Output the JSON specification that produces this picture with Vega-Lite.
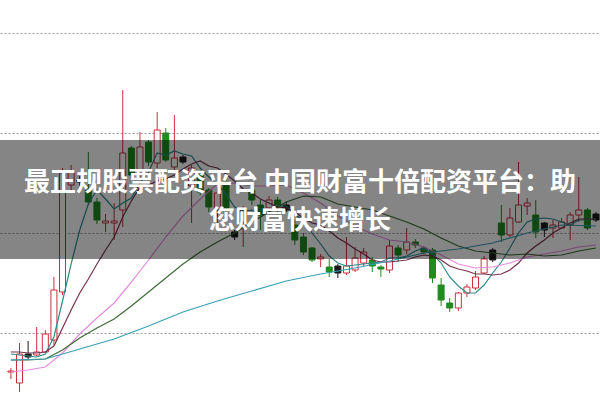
{
  "$schema": "https://vega.github.io/schema/vega-lite/v6.json",
  "width": 600,
  "height": 400,
  "padding": 0,
  "autosize": {"type": "none"},
  "background": "#ffffff",
  "config": {"view": {"stroke": null}},
  "datasets": {
    "k": [
      {"i":0,"o":2.61,"h":2.65,"l":2.54,"c":2.62,"dir":"up"},
      {"i":1,"o":2.50,"h":2.90,"l":2.41,"c":2.79,"dir":"up"},
      {"i":2,"o":2.79,"h":2.92,"l":2.73,"c":2.76,"dir":"flat"},
      {"i":3,"o":2.78,"h":3.06,"l":2.77,"c":2.81,"dir":"up"},
      {"i":4,"o":2.81,"h":3.03,"l":2.81,"c":2.99,"dir":"up"},
      {"i":5,"o":2.93,"h":3.56,"l":2.88,"c":3.43,"dir":"up"},
      {"i":6,"o":3.41,"h":4.65,"l":3.38,"c":4.60,"dir":"up"},
      {"i":7,"o":4.48,"h":4.68,"l":4.43,"c":4.61,"dir":"up"},
      {"i":8,"o":4.53,"h":4.57,"l":4.47,"c":4.51,"dir":"flat"},
      {"i":9,"o":4.43,"h":4.81,"l":4.28,"c":4.31,"dir":"down"},
      {"i":10,"o":4.31,"h":4.35,"l":4.09,"c":4.13,"dir":"down"},
      {"i":11,"o":4.10,"h":4.19,"l":4.01,"c":4.12,"dir":"up"},
      {"i":12,"o":4.10,"h":4.30,"l":3.93,"c":4.12,"dir":"up"},
      {"i":13,"o":4.23,"h":5.43,"l":4.06,"c":4.80,"dir":"up"},
      {"i":14,"o":4.85,"h":4.87,"l":4.55,"c":4.58,"dir":"down"},
      {"i":15,"o":4.58,"h":5.01,"l":4.53,"c":4.86,"dir":"up"},
      {"i":16,"o":4.91,"h":4.93,"l":4.67,"c":4.71,"dir":"down"},
      {"i":17,"o":4.70,"h":5.21,"l":4.65,"c":5.03,"dir":"up"},
      {"i":18,"o":5.00,"h":5.05,"l":4.71,"c":4.73,"dir":"down"},
      {"i":19,"o":4.66,"h":5.18,"l":4.63,"c":4.75,"dir":"up"},
      {"i":20,"o":4.76,"h":4.78,"l":4.69,"c":4.71,"dir":"flat"},
      {"i":21,"o":4.47,"h":4.68,"l":4.10,"c":4.65,"dir":"up"},
      {"i":22,"o":4.58,"h":4.63,"l":4.38,"c":4.41,"dir":"down"},
      {"i":23,"o":4.43,"h":4.45,"l":4.21,"c":4.26,"dir":"down"},
      {"i":24,"o":4.23,"h":4.46,"l":4.08,"c":4.40,"dir":"up"},
      {"i":25,"o":4.51,"h":4.58,"l":4.18,"c":4.25,"dir":"down"},
      {"i":26,"o":4.01,"h":4.03,"l":3.93,"c":3.96,"dir":"flat"},
      {"i":27,"o":4.11,"h":4.27,"l":3.86,"c":4.23,"dir":"up"},
      {"i":28,"o":4.43,"h":4.47,"l":4.28,"c":4.33,"dir":"down"},
      {"i":29,"o":4.28,"h":4.33,"l":4.03,"c":4.18,"dir":"down"},
      {"i":30,"o":4.25,"h":4.37,"l":4.23,"c":4.33,"dir":"up"},
      {"i":31,"o":4.33,"h":4.36,"l":4.20,"c":4.28,"dir":"down"},
      {"i":32,"o":4.28,"h":4.31,"l":4.21,"c":4.23,"dir":"flat"},
      {"i":33,"o":4.08,"h":4.13,"l":3.88,"c":3.93,"dir":"down"},
      {"i":34,"o":3.96,"h":4.00,"l":3.78,"c":3.81,"dir":"down"},
      {"i":35,"o":3.85,"h":3.86,"l":3.71,"c":3.73,"dir":"down"},
      {"i":36,"o":3.74,"h":3.79,"l":3.66,"c":3.76,"dir":"up"},
      {"i":37,"o":3.66,"h":3.74,"l":3.56,"c":3.61,"dir":"down"},
      {"i":38,"o":3.67,"h":3.69,"l":3.55,"c":3.60,"dir":"flat"},
      {"i":39,"o":3.60,"h":3.96,"l":3.58,"c":3.67,"dir":"up"},
      {"i":40,"o":3.63,"h":3.86,"l":3.61,"c":3.75,"dir":"up"},
      {"i":41,"o":3.70,"h":3.85,"l":3.67,"c":3.81,"dir":"up"},
      {"i":42,"o":3.73,"h":3.76,"l":3.61,"c":3.67,"dir":"down"},
      {"i":43,"o":3.66,"h":3.68,"l":3.56,"c":3.64,"dir":"down"},
      {"i":44,"o":3.63,"h":3.93,"l":3.60,"c":3.87,"dir":"up"},
      {"i":45,"o":3.85,"h":3.88,"l":3.71,"c":3.78,"dir":"down"},
      {"i":46,"o":3.83,"h":4.05,"l":3.79,"c":3.91,"dir":"up"},
      {"i":47,"o":3.91,"h":3.94,"l":3.85,"c":3.88,"dir":"down"},
      {"i":48,"o":3.85,"h":3.87,"l":3.79,"c":3.81,"dir":"down"},
      {"i":49,"o":3.83,"h":3.85,"l":3.50,"c":3.55,"dir":"down"},
      {"i":50,"o":3.48,"h":3.55,"l":3.27,"c":3.33,"dir":"down"},
      {"i":51,"o":3.30,"h":3.35,"l":3.21,"c":3.25,"dir":"down"},
      {"i":52,"o":3.25,"h":3.41,"l":3.22,"c":3.40,"dir":"up"},
      {"i":53,"o":3.40,"h":3.49,"l":3.36,"c":3.46,"dir":"up"},
      {"i":54,"o":3.45,"h":3.62,"l":3.43,"c":3.56,"dir":"up"},
      {"i":55,"o":3.60,"h":3.77,"l":3.59,"c":3.74,"dir":"up"},
      {"i":56,"o":3.73,"h":3.85,"l":3.71,"c":3.83,"dir":"flat"},
      {"i":57,"o":4.10,"h":4.28,"l":3.91,"c":3.98,"dir":"down"},
      {"i":58,"o":3.98,"h":4.25,"l":3.96,"c":4.15,"dir":"up"},
      {"i":59,"o":4.11,"h":4.71,"l":4.10,"c":4.28,"dir":"up"},
      {"i":60,"o":4.27,"h":4.35,"l":4.18,"c":4.30,"dir":"up"},
      {"i":61,"o":4.18,"h":4.33,"l":3.95,"c":4.01,"dir":"down"},
      {"i":62,"o":4.10,"h":4.11,"l":3.96,"c":4.03,"dir":"flat"},
      {"i":63,"o":4.05,"h":4.13,"l":3.95,"c":4.08,"dir":"up"},
      {"i":64,"o":4.05,"h":4.15,"l":4.04,"c":4.11,"dir":"up"},
      {"i":65,"o":4.08,"h":4.21,"l":3.93,"c":4.18,"dir":"up"},
      {"i":66,"o":4.18,"h":4.56,"l":4.11,"c":4.23,"dir":"up"},
      {"i":67,"o":4.23,"h":4.25,"l":4.03,"c":4.05,"dir":"down"},
      {"i":68,"o":4.19,"h":4.21,"l":4.11,"c":4.13,"dir":"flat"}
    ],
    "ma": [
      {"s":"MA5","i":0,"v":2.79},{"s":"MA5","i":1,"v":2.78},{"s":"MA5","i":2,"v":2.77},{"s":"MA5","i":3,"v":2.76},{"s":"MA5","i":4,"v":2.79},
      {"s":"MA5","i":5,"v":2.96},{"s":"MA5","i":6,"v":3.32},{"s":"MA5","i":7,"v":3.69},{"s":"MA5","i":8,"v":4.03},{"s":"MA5","i":9,"v":4.29},
      {"s":"MA5","i":10,"v":4.43},{"s":"MA5","i":11,"v":4.34},{"s":"MA5","i":12,"v":4.24},{"s":"MA5","i":13,"v":4.30},{"s":"MA5","i":14,"v":4.35},
      {"s":"MA5","i":15,"v":4.50},{"s":"MA5","i":16,"v":4.61},{"s":"MA5","i":17,"v":4.80},{"s":"MA5","i":18,"v":4.78},{"s":"MA5","i":19,"v":4.82},
      {"s":"MA5","i":20,"v":4.79},{"s":"MA5","i":21,"v":4.77},{"s":"MA5","i":22,"v":4.65},{"s":"MA5","i":23,"v":4.56},{"s":"MA5","i":24,"v":4.49},
      {"s":"MA5","i":25,"v":4.39},{"s":"MA5","i":26,"v":4.26},{"s":"MA5","i":27,"v":4.22},{"s":"MA5","i":28,"v":4.23},{"s":"MA5","i":29,"v":4.19},
      {"s":"MA5","i":30,"v":4.21},{"s":"MA5","i":31,"v":4.27},{"s":"MA5","i":32,"v":4.27},{"s":"MA5","i":33,"v":4.19},{"s":"MA5","i":34,"v":4.12},
      {"s":"MA5","i":35,"v":4.00},{"s":"MA5","i":36,"v":3.89},{"s":"MA5","i":37,"v":3.77},{"s":"MA5","i":38,"v":3.70},{"s":"MA5","i":39,"v":3.67},
      {"s":"MA5","i":40,"v":3.68},{"s":"MA5","i":41,"v":3.69},{"s":"MA5","i":42,"v":3.70},{"s":"MA5","i":43,"v":3.71},{"s":"MA5","i":44,"v":3.75},
      {"s":"MA5","i":45,"v":3.75},{"s":"MA5","i":46,"v":3.77},{"s":"MA5","i":47,"v":3.82},{"s":"MA5","i":48,"v":3.85},{"s":"MA5","i":49,"v":3.79},
      {"s":"MA5","i":50,"v":3.70},{"s":"MA5","i":51,"v":3.56},{"s":"MA5","i":52,"v":3.47},{"s":"MA5","i":53,"v":3.40},{"s":"MA5","i":54,"v":3.40},
      {"s":"MA5","i":55,"v":3.48},{"s":"MA5","i":56,"v":3.60},{"s":"MA5","i":57,"v":3.71},{"s":"MA5","i":58,"v":3.85},{"s":"MA5","i":59,"v":4.00},
      {"s":"MA5","i":60,"v":4.11},{"s":"MA5","i":61,"v":4.14},{"s":"MA5","i":62,"v":4.15},{"s":"MA5","i":63,"v":4.14},{"s":"MA5","i":64,"v":4.11},
      {"s":"MA5","i":65,"v":4.08},{"s":"MA5","i":66,"v":4.13},{"s":"MA5","i":67,"v":4.13},{"s":"MA5","i":68,"v":4.14},

      {"s":"MA10","i":0,"v":2.81},{"s":"MA10","i":1,"v":2.81},{"s":"MA10","i":2,"v":2.80},{"s":"MA10","i":3,"v":2.80},{"s":"MA10","i":4,"v":2.81},
      {"s":"MA10","i":5,"v":2.87},{"s":"MA10","i":6,"v":3.05},{"s":"MA10","i":7,"v":3.23},{"s":"MA10","i":8,"v":3.40},{"s":"MA10","i":9,"v":3.54},
      {"s":"MA10","i":10,"v":3.69},{"s":"MA10","i":11,"v":3.83},{"s":"MA10","i":12,"v":3.96},{"s":"MA10","i":13,"v":4.16},{"s":"MA10","i":14,"v":4.32},
      {"s":"MA10","i":15,"v":4.46},{"s":"MA10","i":16,"v":4.48},{"s":"MA10","i":17,"v":4.52},{"s":"MA10","i":18,"v":4.54},{"s":"MA10","i":19,"v":4.58},
      {"s":"MA10","i":20,"v":4.64},{"s":"MA10","i":21,"v":4.69},{"s":"MA10","i":22,"v":4.72},{"s":"MA10","i":23,"v":4.67},{"s":"MA10","i":24,"v":4.65},
      {"s":"MA10","i":25,"v":4.59},{"s":"MA10","i":26,"v":4.52},{"s":"MA10","i":27,"v":4.44},{"s":"MA10","i":28,"v":4.40},{"s":"MA10","i":29,"v":4.34},
      {"s":"MA10","i":30,"v":4.30},{"s":"MA10","i":31,"v":4.26},{"s":"MA10","i":32,"v":4.25},{"s":"MA10","i":33,"v":4.21},{"s":"MA10","i":34,"v":4.15},
      {"s":"MA10","i":35,"v":4.10},{"s":"MA10","i":36,"v":4.08},{"s":"MA10","i":37,"v":4.02},{"s":"MA10","i":38,"v":3.95},{"s":"MA10","i":39,"v":3.90},
      {"s":"MA10","i":40,"v":3.84},{"s":"MA10","i":41,"v":3.79},{"s":"MA10","i":42,"v":3.73},{"s":"MA10","i":43,"v":3.71},{"s":"MA10","i":44,"v":3.71},
      {"s":"MA10","i":45,"v":3.72},{"s":"MA10","i":46,"v":3.73},{"s":"MA10","i":47,"v":3.76},{"s":"MA10","i":48,"v":3.78},{"s":"MA10","i":49,"v":3.77},
      {"s":"MA10","i":50,"v":3.73},{"s":"MA10","i":51,"v":3.67},{"s":"MA10","i":52,"v":3.64},{"s":"MA10","i":53,"v":3.62},{"s":"MA10","i":54,"v":3.59},
      {"s":"MA10","i":55,"v":3.59},{"s":"MA10","i":56,"v":3.58},{"s":"MA10","i":57,"v":3.59},{"s":"MA10","i":58,"v":3.63},{"s":"MA10","i":59,"v":3.70},
      {"s":"MA10","i":60,"v":3.80},{"s":"MA10","i":61,"v":3.87},{"s":"MA10","i":62,"v":3.93},{"s":"MA10","i":63,"v":4.00},{"s":"MA10","i":64,"v":4.05},
      {"s":"MA10","i":65,"v":4.10},{"s":"MA10","i":66,"v":4.14},{"s":"MA10","i":67,"v":4.14},{"s":"MA10","i":68,"v":4.14},

      {"s":"MA20","i":0,"v":2.61},{"s":"MA20","i":2,"v":2.63},{"s":"MA20","i":4,"v":2.66},{"s":"MA20","i":6,"v":2.80},{"s":"MA20","i":8,"v":2.99},
      {"s":"MA20","i":10,"v":3.15},{"s":"MA20","i":12,"v":3.30},{"s":"MA20","i":14,"v":3.51},{"s":"MA20","i":16,"v":3.73},{"s":"MA20","i":18,"v":3.96},
      {"s":"MA20","i":20,"v":4.17},{"s":"MA20","i":22,"v":4.34},{"s":"MA20","i":24,"v":4.49},{"s":"MA20","i":26,"v":4.50},{"s":"MA20","i":28,"v":4.47},
      {"s":"MA20","i":30,"v":4.47},{"s":"MA20","i":32,"v":4.48},{"s":"MA20","i":34,"v":4.40},{"s":"MA20","i":36,"v":4.30},{"s":"MA20","i":38,"v":4.17},
      {"s":"MA20","i":40,"v":4.07},{"s":"MA20","i":42,"v":3.99},{"s":"MA20","i":44,"v":3.93},{"s":"MA20","i":46,"v":3.91},{"s":"MA20","i":48,"v":3.86},
      {"s":"MA20","i":50,"v":3.78},{"s":"MA20","i":52,"v":3.69},{"s":"MA20","i":54,"v":3.65},{"s":"MA20","i":56,"v":3.66},{"s":"MA20","i":58,"v":3.70},
      {"s":"MA20","i":60,"v":3.76},{"s":"MA20","i":62,"v":3.79},{"s":"MA20","i":64,"v":3.82},{"s":"MA20","i":66,"v":3.86},{"s":"MA20","i":68,"v":3.88},

      {"s":"MA30","i":0,"v":2.73},{"s":"MA30","i":2,"v":2.73},{"s":"MA30","i":4,"v":2.74},{"s":"MA30","i":6,"v":2.83},{"s":"MA30","i":8,"v":2.95},
      {"s":"MA30","i":10,"v":3.05},{"s":"MA30","i":12,"v":3.14},{"s":"MA30","i":14,"v":3.27},{"s":"MA30","i":16,"v":3.41},{"s":"MA30","i":18,"v":3.55},
      {"s":"MA30","i":20,"v":3.69},{"s":"MA30","i":22,"v":3.81},{"s":"MA30","i":24,"v":3.91},{"s":"MA30","i":26,"v":4.00},{"s":"MA30","i":28,"v":4.11},
      {"s":"MA30","i":30,"v":4.21},{"s":"MA30","i":32,"v":4.31},{"s":"MA30","i":34,"v":4.37},{"s":"MA30","i":36,"v":4.36},{"s":"MA30","i":38,"v":4.29},
      {"s":"MA30","i":40,"v":4.26},{"s":"MA30","i":42,"v":4.23},{"s":"MA30","i":44,"v":4.17},{"s":"MA30","i":46,"v":4.11},{"s":"MA30","i":48,"v":4.04},
      {"s":"MA30","i":50,"v":3.95},{"s":"MA30","i":52,"v":3.87},{"s":"MA30","i":54,"v":3.82},{"s":"MA30","i":56,"v":3.80},{"s":"MA30","i":58,"v":3.78},
      {"s":"MA30","i":60,"v":3.79},{"s":"MA30","i":62,"v":3.77},{"s":"MA30","i":64,"v":3.78},{"s":"MA30","i":66,"v":3.82},{"s":"MA30","i":68,"v":3.85},

      {"s":"MA60","i":0,"v":2.73},{"s":"MA60","i":4,"v":2.74},{"s":"MA60","i":8,"v":2.84},{"s":"MA60","i":12,"v":2.94},{"s":"MA60","i":16,"v":3.07},
      {"s":"MA60","i":20,"v":3.21},{"s":"MA60","i":24,"v":3.32},{"s":"MA60","i":28,"v":3.42},{"s":"MA60","i":32,"v":3.52},{"s":"MA60","i":36,"v":3.59},
      {"s":"MA60","i":40,"v":3.65},{"s":"MA60","i":44,"v":3.72},{"s":"MA60","i":48,"v":3.80},{"s":"MA60","i":52,"v":3.84},{"s":"MA60","i":56,"v":3.90},
      {"s":"MA60","i":60,"v":4.00},{"s":"MA60","i":64,"v":4.08},{"s":"MA60","i":68,"v":4.07}
    ],
    "banner": [{"top": 4.93, "bottom": 3.74}],
    "caption": [
      {"line": 1, "text": "最正规股票配资平台 中国财富十倍配资平台：助", "level": 4.50},
      {"line": 2, "text": "您财富快速增长", "level": 4.12}
    ]
  },
  "layer": [
    {
      "data": {"name": "k"},
      "mark": {"type": "rule", "strokeWidth": 1, "clip": true},
      "encoding": {
        "x": {"field": "i", "type": "quantitative", "scale": {"domain": [-0.686, 67.886], "nice": false, "zero": false}, "axis": null},
        "y": {
          "field": "l", "type": "quantitative",
          "scale": {"domain": [2.33, 6.33], "nice": false, "zero": false},
          "axis": {"values": [3, 4, 5, 6], "grid": true, "gridDash": [2, 2], "gridColor": "#9a9a9a", "gridWidth": 1, "labels": false, "ticks": false, "domain": false, "title": null}
        },
        "y2": {"field": "h"},
        "stroke": {"field": "dir", "type": "nominal", "scale": {"domain": ["up", "down", "flat"], "range": ["#c8303c", "#1e8c1e", "#1a1a1a"]}, "legend": null}
      }
    },
    {
      "data": {"name": "k"},
      "mark": {"type": "bar", "size": 6, "strokeWidth": 1, "clip": true},
      "encoding": {
        "x": {"field": "i", "type": "quantitative"},
        "y": {"field": "o", "type": "quantitative"},
        "y2": {"field": "c"},
        "fill": {"field": "dir", "type": "nominal", "scale": {"domain": ["up", "down", "flat"], "range": ["#ffffff", "#1e8c1e", "#1a1a1a"]}, "legend": null},
        "stroke": {"field": "dir", "type": "nominal", "legend": null}
      }
    },
    {
      "data": {"name": "ma"},
      "mark": {"type": "line", "strokeWidth": 1.2, "clip": true},
      "encoding": {
        "x": {"field": "i", "type": "quantitative"},
        "y": {"field": "v", "type": "quantitative"},
        "color": {"field": "s", "type": "nominal", "scale": {"domain": ["MA5", "MA10", "MA20", "MA30", "MA60"], "range": ["#2e8c8c", "#7a3050", "#e58ce0", "#3d6b35", "#3aa0b5"]}, "legend": null}
      }
    },
    {
      "data": {"name": "banner"},
      "mark": {"type": "rect", "fill": "#000000", "fillOpacity": 0.48},
      "encoding": {
        "y": {"field": "top", "type": "quantitative"},
        "y2": {"field": "bottom"}
      }
    },
    {
      "data": {"name": "caption"},
      "mark": {"type": "text", "font": "Noto Sans CJK SC", "fontSize": 26, "fontWeight": "bold", "fill": "#ffffff", "align": "center", "baseline": "middle"},
      "encoding": {
        "y": {"field": "level", "type": "quantitative"},
        "text": {"field": "text"}
      }
    }
  ]
}
